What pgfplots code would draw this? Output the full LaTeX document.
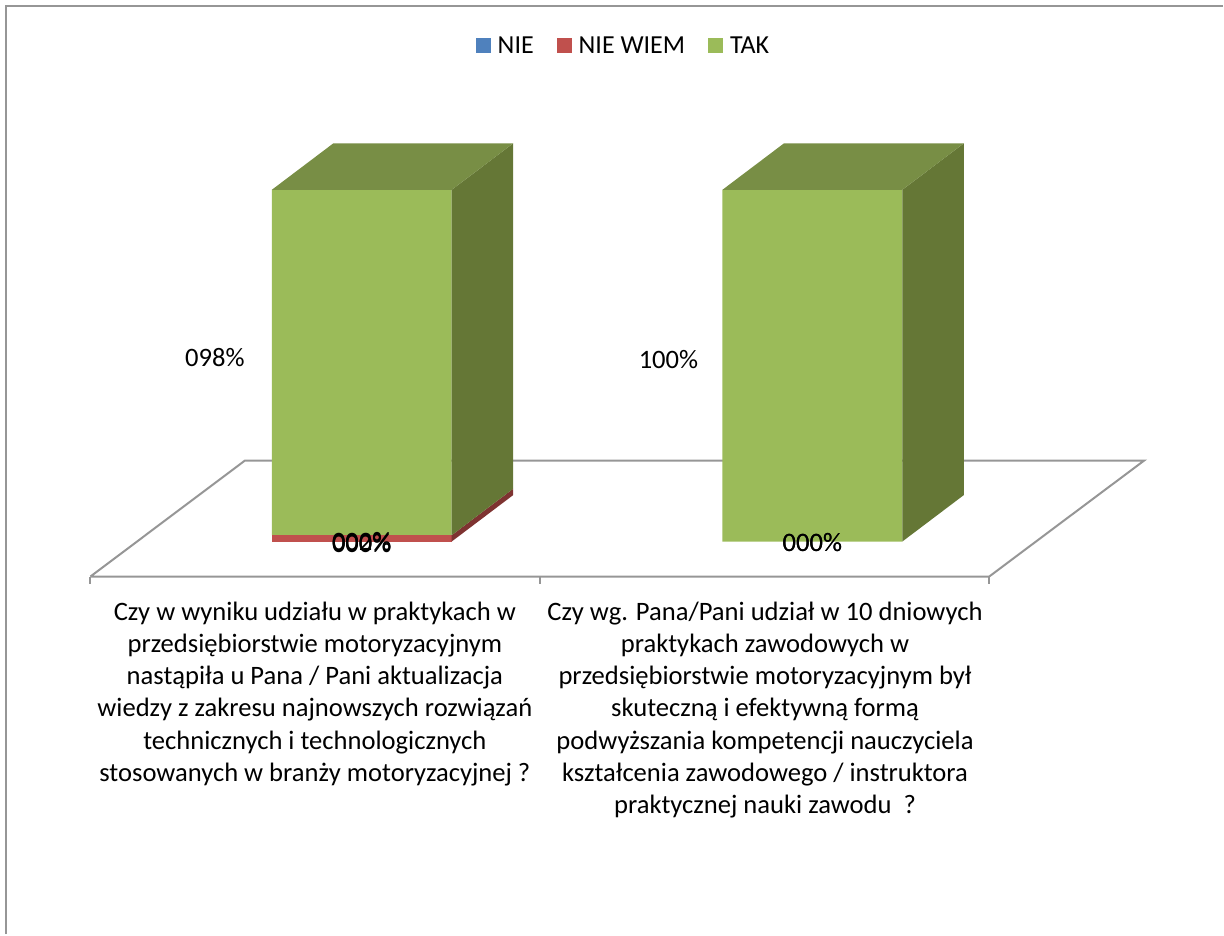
\documentclass[border=0pt]{standalone}
\usepackage{fontspec}
\setmainfont{Carlito}
\usepackage{pgfplots}
\pgfplotsset{compat=1.18}

\definecolor{cnie}{HTML}{4F81BD}
\definecolor{cwiem}{HTML}{C0504D}
\definecolor{ctak}{HTML}{9BBB59}
\definecolor{ctakside}{HTML}{657736}
\definecolor{ctaktop}{HTML}{788E45}
\definecolor{cwiemside}{HTML}{7E3331}
\definecolor{cline}{HTML}{969696}

% all axes share one frame: 451 units per category, 3.52 per percent
\pgfplotsset{frame/.style={
    at={(0pt,0pt)}, anchor=origin,
    scale only axis, width=1224pt, height=935pt,
    xmin=-0.8027, xmax=1.9113,
    ymin=-111.65, ymax=153.98,
    hide axis, clip=false,
    enlargelimits=false,
}}

\begin{document}
\begin{tikzpicture}[font=\fontsize{26}{32.4}\selectfont,
    lab/.style={font=\fontsize{26.6}{32.3}\selectfont}]

% frame of the chart and the floor
\begin{axis}[frame]
\path (rel axis cs:0,0) rectangle (rel axis cs:1,1);
\addplot[cline, line width=2pt] coordinates {(-0.7894,-111.65) (-0.7894,152.27) (1.9113,152.27)};
\addplot[cline, line width=2pt] coordinates {(-0.6020,-9.94) (1.3925,-9.94) (1.7361,23.01) (-0.2594,23.01) (-0.6020,-9.94)};
\addplot[cline, line width=2pt] coordinates {(-0.6020,-9.94) (-0.6020,-11.93)};
\addplot[cline, line width=2pt] coordinates {(0.3947,-9.94) (0.3947,-11.93)};
\addplot[cline, line width=2pt] coordinates {(1.3925,-9.94) (1.3925,-11.93)};
\end{axis}

% front faces
\begin{axis}[frame,
    ybar stacked, bar width=180pt,
    legend columns=3,
    legend style={draw=none, fill=none, at={(rel axis cs:0.5098,0.951)}, anchor=center,
        /tikz/every odd column/.append style={column sep=5pt},
        /tikz/every even column/.append style={column sep=21pt},
        nodes={inner sep=2pt}},
    legend image code/.code={\fill[#1] (0pt,-7pt) rectangle (15pt,8pt);},
]
\addplot[fill=cnie, draw=none] coordinates {(0,0) (1,0)};
\addplot[fill=cwiem, draw=none] coordinates {(0,1.8) (1,0)};
\addplot[fill=ctak, draw=none] coordinates {(0,98.2) (1,100)};
\legend{NIE, NIE WIEM, TAK}
\end{axis}

% side and top faces, labels
\begin{axis}[frame]
\addplot[fill=cwiemside, draw=none] coordinates {(0.1996,0) (0.336,13.2) (0.336,15) (0.1996,1.8)} -- cycle;
\addplot[fill=ctakside, draw=none] coordinates {(0.1996,1.8) (0.336,15) (0.336,113.2) (0.1996,100)} -- cycle;
\addplot[fill=ctaktop, draw=none] coordinates {(-0.1996,100) (-0.0632,113.2) (0.336,113.2) (0.1996,100)} -- cycle;
\addplot[fill=ctakside, draw=none] coordinates {(1.1996,0) (1.336,13.2) (1.336,113.2) (1.1996,100)} -- cycle;
\addplot[fill=ctaktop, draw=none] coordinates {(0.8004,100) (0.9368,113.2) (1.336,113.2) (1.1996,100)} -- cycle;

\node[lab] at (axis cs:-0.326,52.3) {098\%};
\node[lab] at (axis cs:0.6807,51.7) {100\%};
\node[lab] at (axis cs:0,-0.6) {000\%};
\node[lab] at (axis cs:0,0.1) {002\%};
\node[lab] at (axis cs:0,-0.3) {000\%};
\node[lab] at (axis cs:1,-0.3) {000\%};
\node[lab] at (axis cs:1,-0.3) {000\%};

\node[lab, anchor=north, align=center, inner sep=0pt] at (axis cs:-0.104,-17) {Czy w wyniku udziału w praktykach w\\przedsiębiorstwie motoryzacyjnym\\nastąpiła u Pana / Pani aktualizacja\\wiedzy z zakresu najnowszych rozwiązań\\technicznych i technologicznych\\stosowanych w branży motoryzacyjnej ?};
\node[lab, anchor=north, align=center, inner sep=0pt] at (axis cs:0.895,-17) {Czy wg. Pana/Pani udział w 10 dniowych\\praktykach zawodowych w\\przedsiębiorstwie motoryzacyjnym był\\skuteczną i efektywną formą\\podwyższania kompetencji nauczyciela\\kształcenia zawodowego / instruktora\\praktycznej nauki zawodu\ \ ?};
\end{axis}
\end{tikzpicture}
\end{document}
